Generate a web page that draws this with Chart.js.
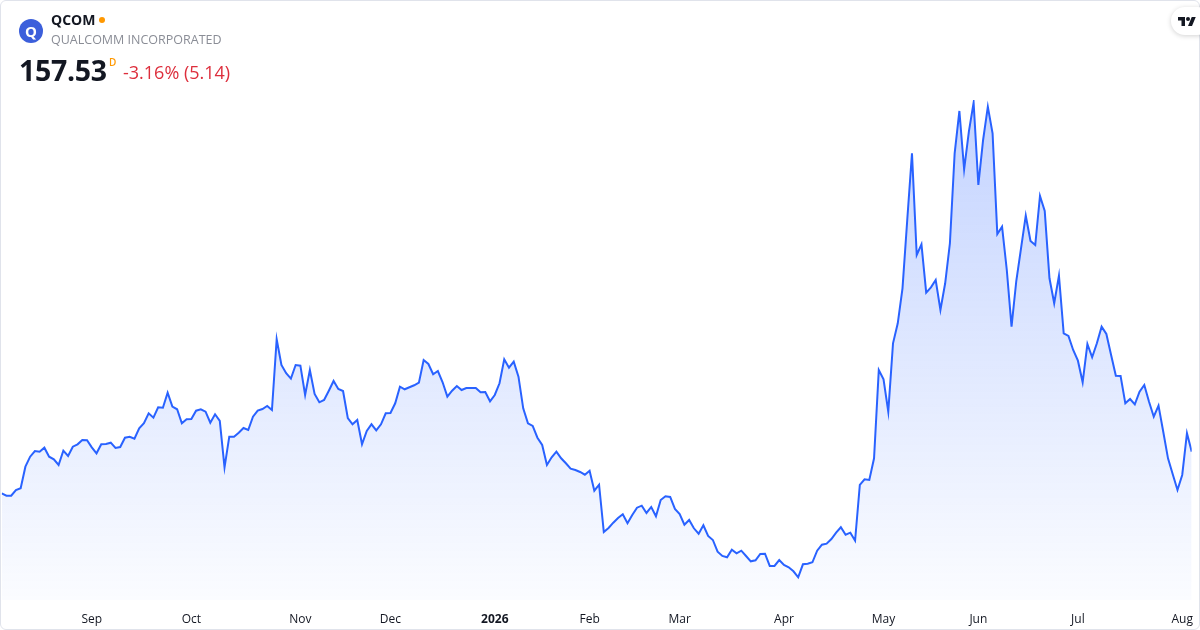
<!DOCTYPE html>
<html>
<head>
<meta charset="utf-8">
<title>QCOM</title>
<script src="https://cdn.jsdelivr.net/npm/chart.js@4.4.1/dist/chart.umd.min.js"></script>
<style>
  html, body { margin: 0; padding: 0; background: #fff; }
  body { width: 1200px; height: 630px; position: relative; overflow: hidden; font-family: "Open Sans", "Noto Sans", sans-serif; }
  #wrap { position: absolute; left: 0; top: 0; width: 1200px; height: 630px; }
  .frame { position: absolute; left: 0; top: 0; width: 1198px; height: 628px; border: 1px solid #e0e3eb; border-radius: 6px; pointer-events: none; }
  .logo { position: absolute; left: 19px; top: 19px; width: 24px; height: 24px; border-radius: 50%; background: #3c5fdb; color: #fff; font-weight: 700; font-size: 15px; line-height: 24px; text-align: center; }
  .sym { position: absolute; left: 51px; top: 10px; font-size: 14px; font-weight: 700; color: #131722; }
  .dot { position: absolute; left: 99px; top: 17px; width: 6px; height: 6px; border-radius: 50%; background: #ff9800; }
  .name { position: absolute; left: 51px; top: 31px; font-size: 12.5px; color: #8a8d96; }
  .price { position: absolute; left: 19px; top: 51px; font-size: 28.5px; font-weight: 700; color: #131722; letter-spacing: -0.3px; }
  .tf { position: absolute; left: 109px; top: 55px; font-size: 10px; font-weight: 600; color: #ff9800; }
  .chg { position: absolute; left: 123px; top: 60px; font-size: 18px; color: #dd2e3c; }
  .tv { position: absolute; left: 1171px; top: 7px; width: 40px; height: 28px; border-radius: 14px; background: #fff; box-shadow: 0 1px 5px rgba(0,0,0,0.18); }
  .tv svg { position: absolute; left: 7px; top: 8px; }
</style>
</head>
<body>
<div id="wrap"><canvas id="myChart" width="1200" height="630"></canvas></div>
<div class="frame"></div>
<div class="logo">Q</div>
<div class="sym">QCOM</div>
<div class="dot"></div>
<div class="name">QUALCOMM INCORPORATED</div>
<div class="price" id="price"></div>
<div class="tf">D</div>
<div class="chg" id="chg"></div>
<div class="tv"><svg width="18" height="14" viewBox="0 0 36 28"><path fill="#131722" d="M14 22H7V11H0V4h14v18zM28 22h-8l7.5-18h8L28 22z"/><circle fill="#131722" cx="20" cy="8" r="4"/></svg></div>

<script>
// header numbers
var lastPrice = 157.53;
var changeAbs = -5.14;
var changePct = -3.16;

// daily closes, Aug 2025 -> Aug 2026
var closes = [
  145.97, 145.31, 145.31, 146.89, 147.36, 153.36, 156.14, 157.72, 157.53, 158.64,
  156.14, 155.42, 153.83, 157.81, 156.33, 158.92, 159.58, 160.78, 160.69, 158.75,
  157.08, 159.58, 159.67, 160.03, 158.56, 158.83, 161.42, 161.69, 161.14, 164.03,
  165.42, 168.19, 166.97, 169.86, 169.75, 173.92, 170.03, 169.31, 165.42, 166.53,
  166.61, 168.92, 169.31, 168.64, 165.58, 167.92, 166.06, 153.19, 161.69, 161.69,
  162.81, 164.11, 163.56, 167.25, 168.92, 169.39, 170.22, 169.11, 188.75, 181.61,
  179.31, 177.81, 181.61, 181.42, 173.28, 180.22, 173.56, 171.25, 171.89, 174.47,
  177.17, 174.94, 174.39, 166.89, 165.14, 166.33, 159.58, 163.28, 165.14, 163.47,
  165.14, 168.19, 168.28, 170.97, 175.58, 174.86, 175.42, 175.97, 176.69, 183.00,
  181.89, 179.03, 179.94, 176.81, 172.81, 174.47, 175.78, 174.67, 175.22, 175.22,
  175.22, 174.03, 174.11, 171.53, 173.28, 176.53, 183.19, 180.86, 182.53, 178.36,
  169.58, 165.42, 164.67, 161.42, 159.39, 153.83, 155.97, 157.53, 155.69, 154.31,
  152.81, 152.44, 151.89, 151.14, 152.25, 146.69, 148.36, 135.22, 136.33, 137.81,
  139.11, 140.14, 137.64, 139.94, 141.97, 142.53, 140.50, 142.17, 139.58, 144.11,
  145.14, 144.94, 141.61, 140.22, 137.25, 138.56, 136.25, 134.75, 137.08, 134.11,
  133.00, 129.75, 128.56, 128.19, 130.31, 129.31, 130.03, 128.56, 127.08, 127.36,
  129.11, 129.19, 125.78, 125.78, 127.44, 126.06, 125.42, 124.31, 122.64, 126.25,
  126.42, 126.81, 130.03, 131.69, 131.97, 133.28, 135.03, 136.53, 134.47, 135.03,
  132.81, 148.28, 149.86, 149.67, 155.69, 180.22, 177.64, 168.64, 187.64, 193.19,
  202.92, 221.89, 240.42, 212.17, 215.14, 201.69, 203.19, 205.22, 196.89, 204.31,
  215.42, 240.42, 252.17, 235.97, 246.42, 254.47, 231.61, 244.11, 253.36, 245.97,
  218.00, 220.03, 208.00, 192.25, 204.94, 214.03, 223.08, 216.06, 214.94, 228.56,
  224.39, 205.69, 198.75, 206.42, 190.42, 189.67, 185.78, 182.81, 176.81, 187.44,
  183.75, 187.64, 192.25, 190.22, 184.39, 178.64, 178.56, 170.97, 172.17, 170.69,
  174.19, 176.06, 171.42, 167.25, 170.31, 163.08, 155.69, 151.25, 146.89, 151.06,
  162.67, 157.53
];

// first trading day of each month (index into closes) and its label
var tickIndex = [19, 40, 63, 82, 104, 124, 143, 165, 186, 206, 227, 249];
var tickLabels = ['Sep', 'Oct', 'Nov', 'Dec', '2026', 'Feb', 'Mar', 'Apr', 'May', 'Jun', 'Jul', 'Aug'];

document.getElementById('price').textContent = lastPrice.toFixed(2);
document.getElementById('chg').textContent = changePct.toFixed(2) + '% (' + Math.abs(changeAbs).toFixed(2) + ')';

var points = closes.map(function (v, i) { return { x: i, y: v }; });

var ctx = document.getElementById('myChart').getContext('2d');

var mychart = new Chart(ctx, {
    type: 'line',
    data: {
        datasets: [{
            label: 'QCOM',
            data: points,
            borderColor: '#2962ff',
            borderWidth: 2,
            pointRadius: 0,
            tension: 0,
            fill: 'start',
            backgroundColor: function (c) {
                var area = c.chart.chartArea;
                if (!area) return 'rgba(41,98,255,0.1)';
                var g = c.chart.ctx.createLinearGradient(0, area.top, 0, area.bottom);
                g.addColorStop(0, 'rgba(41,98,255,0.28)');
                g.addColorStop(1, 'rgba(41,98,255,0.02)');
                return g;
            }
        }]
    },
    options: {
        responsive: false,
        animation: false,
        layout: { padding: { left: 1.7, right: 8.3, top: 100, bottom: 0 } },
        plugins: { legend: { display: false }, tooltip: { enabled: false } },
        scales: {
            x: {
                type: 'linear',
                min: 0,
                max: closes.length - 1,
                grid: { display: false, drawTicks: false },
                border: { display: false },
                afterBuildTicks: function (axis) {
                    axis.ticks = tickIndex.map(function (v) { return { value: v }; });
                },
                afterFit: function (axis) {
                    axis.height = 30;
                    axis.paddingLeft = 0;
                    axis.paddingRight = 0;
                },
                ticks: {
                    autoSkip: false,
                    maxRotation: 0,
                    padding: 12,
                    color: '#131722',
                    font: function (c) {
                        var lbl = c.tick ? tickLabels[tickIndex.indexOf(c.tick.value)] : '';
                        return { family: '"Open Sans", sans-serif', size: 12, weight: lbl === '2026' ? 'bold' : 'normal' };
                    },
                    callback: function (value) {
                        var k = tickIndex.indexOf(value);
                        return k >= 0 ? tickLabels[k] : '';
                    }
                }
            },
            y: {
                display: false,
                min: 116.33,
                max: 255.22
            }
        }
    }
});
</script>
</body>
</html>
